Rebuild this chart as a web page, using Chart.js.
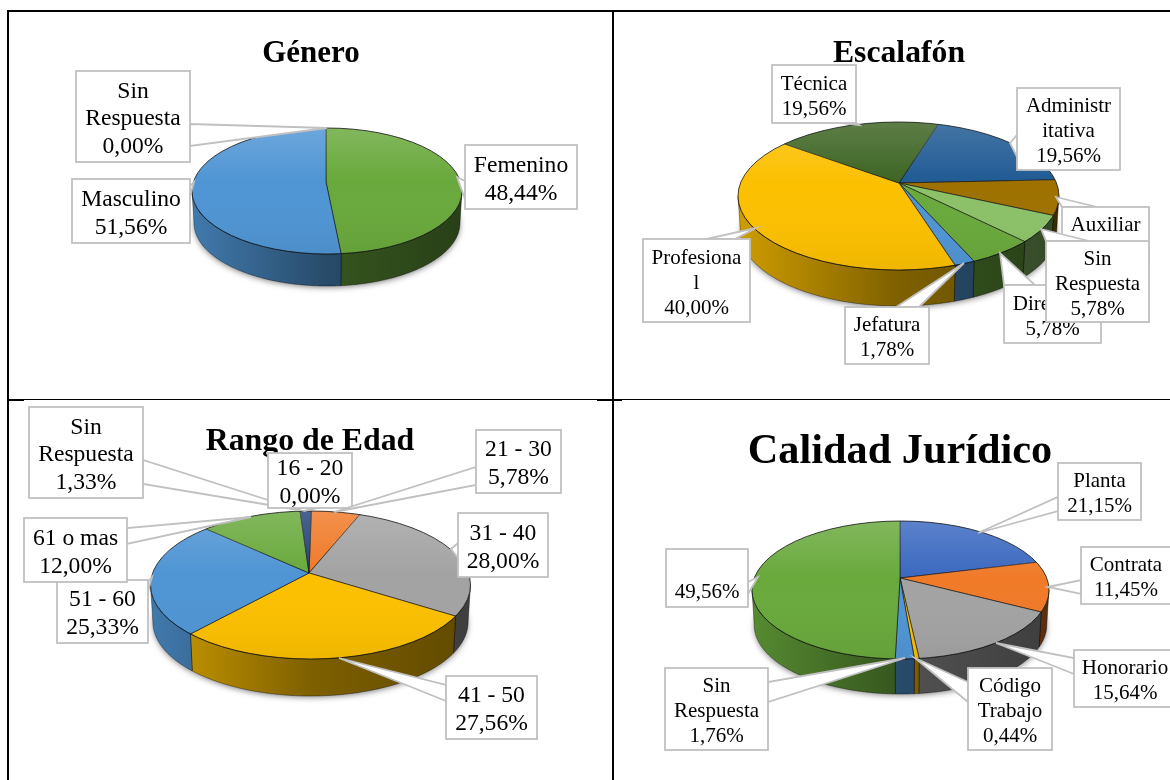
<!DOCTYPE html>
<html lang="es">
<head>
<meta charset="utf-8">
<title>Género, Escalafón, Rango de Edad, Calidad Jurídico</title>
<script src="https://cdn.jsdelivr.net/npm/chart.js@4"></script>
<style>
  html, body { margin: 0; padding: 0; background: #fff; }
  body { position: relative; width: 1170px; height: 780px; overflow: hidden; }
  canvas { position: absolute; }
  .linea { position: absolute; background: #000; z-index: 5; }
</style>
</head>
<body>
<canvas id="cGenero" width="613" height="399" style="left:0;top:0"></canvas>
<canvas id="cEscalafon" width="557" height="399" style="left:613px;top:0"></canvas>
<canvas id="cEdad" width="613" height="381" style="left:0;top:399px"></canvas>
<canvas id="cCalidad" width="557" height="381" style="left:613px;top:399px"></canvas>

<div class="linea" style="left:7px;top:10px;width:1163px;height:2px"></div>
<div class="linea" style="left:7px;top:10px;width:2px;height:770px"></div>
<div class="linea" style="left:612px;top:10px;width:2px;height:770px"></div>
<div class="linea" style="left:7px;top:399px;width:1163px;height:1px"></div>
<div class="linea" style="left:7px;top:399px;width:17px;height:2px"></div>
<div class="linea" style="left:597px;top:399px;width:25px;height:2px"></div>

<script>
// Datos
const generoCategorias = ["Femenino", "Masculino", "Sin Respuesta"];
const generoValores = [48.44, 51.56, 0];
const generoColores = ["#69a93c", "#4f95d4", "#a3a3a3"];

const escalafonCategorias = ["Administrativa", "Auxiliar", "Sin Respuesta", "Directivo", "Jefatura", "Profesional", "Técnica"];
const escalafonValores = [19.56, 7.54, 5.78, 5.78, 1.78, 40.0, 19.56];
const escalafonColores = ["#1f5a94", "#9e7100", "#8cc168", "#69a93c", "#4f95d4", "#fcc000", "#3c6422"];

const edadCategorias = ["16 - 20", "21 - 30", "31 - 40", "41 - 50", "51 - 60", "61 o mas", "Sin Respuesta"];
const edadValores = [0, 5.78, 28.0, 27.56, 25.33, 12.0, 1.33];
const edadColores = ["#3a68c0", "#f07a28", "#a3a3a3", "#fcc000", "#4f95d4", "#69a93c", "#264478"];

const calidadCategorias = ["Planta", "Contrata", "Honorario", "Código Trabajo", "Sin Respuesta", ""];
const calidadValores = [21.15, 11.45, 15.64, 0.44, 1.76, 49.56];
const calidadColores = ["#3a68c0", "#f07a28", "#a3a3a3", "#fcc000", "#4f95d4", "#69a93c"];

// Etiquetas: coordenadas de pagina, en el orden en que se pintan
const generoEtiquetas = [
  { i: 0, lineas: ["Femenino"], caja: [465, 145, 577, 209], cuna: [[457, 177], [465, 181], [465, 199]] },
  { i: 1, lineas: ["Masculino"], caja: [72, 179, 190, 243], cuna: [[194, 182], [190, 186], [190, 196]] },
  { i: 2, lineas: ["Sin", "Respuesta"], caja: [76, 71, 190, 162], cuna: [[327, 128], [190, 124], [190, 146]] },
];
const escalafonEtiquetas = [
  { i: 6, lineas: ["Técnica"], caja: [772, 65, 856, 123], cuna: [[859, 125], [842, 123], [856, 123]] },
  { i: 0, lineas: ["Administr", "itativa"], caja: [1017, 88, 1120, 170], cuna: [[1010, 143], [1017, 135], [1017, 157]] },
  // el valor de Auxiliar queda tapado por la caja de Sin Respuesta, igual que en el original
  { i: 1, lineas: ["Auxiliar"], caja: [1062, 207, 1149, 264], cuna: [[1056, 197], [1097, 207], [1062, 207]] },
  { i: 3, lineas: ["Directivo"], caja: [1004, 285, 1101, 343], cuna: [[1000, 253], [1004, 285], [1035, 285]] },
  { i: 2, lineas: ["Sin", "Respuesta"], caja: [1046, 241, 1149, 322], cuna: [[1041, 229], [1089, 241], [1046, 241]] },
  { i: 4, lineas: ["Jefatura"], caja: [845, 307, 929, 364], cuna: [[964, 263], [896, 307], [919, 307]] },
  { i: 5, lineas: ["Profesiona", "l"], caja: [643, 239, 750, 322], cuna: [[756, 228], [706, 239], [735, 239]] },
];
const edadEtiquetas = [
  { i: 6, lineas: ["Sin", "Respuesta"], caja: [29, 407, 143, 498], cuna: [[299, 510], [143, 460], [143, 484]] },
  { i: 0, lineas: ["16 - 20"], caja: [268, 453, 352, 508], cuna: [[304, 511], [292, 508], [318, 508]] },
  { i: 1, lineas: ["21 - 30"], caja: [476, 430, 561, 493], cuna: [[334, 512], [476, 467], [476, 485]] },
  { i: 2, lineas: ["31 - 40"], caja: [458, 513, 548, 577], cuna: [[451, 549], [458, 543], [458, 558]] },
  { i: 3, lineas: ["41 - 50"], caja: [446, 676, 537, 739], cuna: [[339, 658], [446, 685], [446, 701]] },
  { i: 4, lineas: ["51 - 60"], caja: [57, 580, 148, 643], cuna: [[152, 577], [148, 582], [148, 592]] },
  { i: 5, lineas: ["61 o mas"], caja: [24, 518, 127, 582], cuna: [[251, 517], [127, 528], [127, 544]] },
];
const calidadEtiquetas = [
  { i: 0, lineas: ["Planta"], caja: [1058, 463, 1141, 520], cuna: [[978, 533], [1058, 497], [1058, 511]] },
  { i: 1, lineas: ["Contrata"], caja: [1081, 547, 1171, 604], cuna: [[1048, 587], [1081, 580], [1081, 594]] },
  { i: 2, lineas: ["Honorario"], caja: [1074, 650, 1176, 707], cuna: [[996, 643], [1074, 658], [1074, 674]] },
  { i: 3, lineas: ["Código", "Trabajo"], caja: [968, 668, 1052, 750], cuna: [[915, 658], [968, 682], [968, 702]] },
  { i: 4, lineas: ["Sin", "Respuesta"], caja: [665, 668, 768, 750], cuna: [[905, 658], [768, 682], [768, 702]] },
  { i: 5, lineas: [""], caja: [666, 549, 748, 607], cuna: [[758, 577], [748, 582], [748, 594]] },
];

function oscurecer(hex, f) {
  const n = parseInt(hex.slice(1), 16);
  const r = Math.round(((n >> 16) & 255) * f);
  const g = Math.round(((n >> 8) & 255) * f);
  const b = Math.round((n & 255) * f);
  return `rgb(${r},${g},${b})`;
}

// Punto donde el rayo desde el vertice corta la elipse de la cara superior
function puntoBorde(g, ang) {
  const p = Math.cos(ang) / g.rx;
  const q = (g.k * Math.sin(ang)) / g.ry;
  const u = (g.ax - g.cx) / g.rx;
  const v = (g.ay - g.cy) / g.ry;
  const a = p * p + q * q;
  const b = 2 * (u * p + v * q);
  const c = u * u + v * v - 1;
  const t = (-b + Math.sqrt(b * b - 4 * a * c)) / (2 * a);
  return { x: g.ax + p * g.rx * t, y: g.ay + q * g.ry * t };
}

const pie3d = {
  id: "pie3d",
  beforeDatasetsDraw(chart, args, o) {
    const ctx = chart.ctx;
    const g = o.geo;
    const arcos = chart.getDatasetMeta(0).data;
    ctx.save();
    ctx.translate(-o.celda[0], -o.celda[1]);

    // sombra bajo la pared
    ctx.save();
    ctx.shadowColor = "rgba(0,0,0,0.55)";
    ctx.shadowBlur = 6;
    ctx.shadowOffsetY = 2;
    ctx.fillStyle = "#333";
    ctx.beginPath();
    ctx.ellipse(g.cx, g.cy + g.prof, g.rx * 0.98, g.ry - 1, 0, 0, Math.PI * 2);
    ctx.fill();
    ctx.restore();

    // pared frontal de cada porcion
    arcos.forEach((arco, i) => {
      const pts = [];
      for (let a = arco.startAngle; a < arco.endAngle; a += 0.008) {
        const p = puntoBorde(g, a);
        if (p.y >= g.cy) pts.push(p);
      }
      const fin = puntoBorde(g, arco.endAngle);
      if (fin.y >= g.cy) pts.push(fin);
      if (pts.length < 2) return;
      const color = o.colores[i];
      const grad = ctx.createLinearGradient(g.cx - g.rx, 0, g.cx + g.rx, 0);
      grad.addColorStop(0, oscurecer(color, 0.82));
      grad.addColorStop(0.5, oscurecer(color, 0.5));
      grad.addColorStop(1, oscurecer(color, 0.38));
      ctx.beginPath();
      pts.forEach((p, n) => (n ? ctx.lineTo(p.x, p.y) : ctx.moveTo(p.x, p.y)));
      // la curva inferior es un poco mas estrecha, por la perspectiva
      for (let n = pts.length - 1; n >= 0; n--) {
        ctx.lineTo(g.cx + (pts[n].x - g.cx) * 0.985, pts[n].y + g.prof);
      }
      ctx.closePath();
      ctx.fillStyle = grad;
      ctx.fill();
      ctx.strokeStyle = "rgba(0,0,0,0.45)";
      ctx.lineWidth = 0.8;
      ctx.stroke();
    });

    // la cara superior la pinta Chart.js, recortada a la elipse
    ctx.beginPath();
    ctx.ellipse(g.cx, g.cy, g.rx, g.ry, 0, 0, Math.PI * 2);
    ctx.clip();
    const a0 = arcos[0];
    ctx.translate(g.ax, g.ay);
    ctx.scale(1, g.k);
    ctx.translate(-a0.x, -a0.y);
  },
  afterDatasetsDraw(chart, args, o) {
    const ctx = chart.ctx;
    const g = o.geo;
    ctx.restore();
    ctx.save();
    ctx.translate(-o.celda[0], -o.celda[1]);

    // brillo de la cara superior
    ctx.save();
    ctx.beginPath();
    ctx.ellipse(g.cx, g.cy, g.rx, g.ry, 0, 0, Math.PI * 2);
    ctx.clip();
    const brillo = ctx.createLinearGradient(0, g.cy - g.ry, 0, g.cy + g.ry);
    brillo.addColorStop(0, "rgba(255,255,255,0.17)");
    brillo.addColorStop(0.42, "rgba(255,255,255,0)");
    brillo.addColorStop(1, "rgba(0,0,0,0.05)");
    ctx.fillStyle = brillo;
    ctx.fillRect(g.cx - g.rx, g.cy - g.ry, g.rx * 2, g.ry * 2);
    ctx.restore();

    ctx.strokeStyle = "rgba(20,20,20,0.8)";
    ctx.lineWidth = 1;
    ctx.beginPath();
    ctx.ellipse(g.cx, g.cy, g.rx, g.ry, 0, 0, Math.PI * 2);
    ctx.stroke();
    ctx.restore();
  },
  afterDraw(chart, args, o) {
    const ctx = chart.ctx;
    ctx.save();
    ctx.translate(-o.celda[0], -o.celda[1]);
    ctx.textAlign = "center";
    ctx.fillStyle = "#000";
    ctx.textBaseline = "alphabetic";
    ctx.font = `bold ${o.titulo.tam}px "Liberation Serif"`;
    ctx.fillText(o.titulo.texto, o.titulo.x, o.titulo.y);

    const valores = chart.data.datasets[0].data;
    o.etiquetas.forEach((et) => {
      const [x0, y0, x1, y1] = et.caja;
      // cuna del globo
      ctx.beginPath();
      et.cuna.forEach((p, n) => (n ? ctx.lineTo(p[0], p[1]) : ctx.moveTo(p[0], p[1])));
      ctx.closePath();
      ctx.fillStyle = "#fff";
      ctx.fill();
      ctx.strokeStyle = "#c0c0c0";
      ctx.lineWidth = 1.8;
      ctx.stroke();
      // caja
      ctx.fillStyle = "#fff";
      ctx.fillRect(x0, y0, x1 - x0, y1 - y0);
      ctx.strokeRect(x0, y0, x1 - x0, y1 - y0);
      // texto
      const pct = valores[et.i].toFixed(2).replace(".", ",") + "%";
      const lineas = et.lineas.concat(pct);
      const xm = (x0 + x1) / 2;
      const ym = (y0 + y1) / 2 - ((lineas.length - 1) * o.interlinea) / 2 + 2.5;
      ctx.fillStyle = "#000";
      ctx.textBaseline = "middle";
      ctx.font = `${o.fuente}px "Liberation Serif"`;
      lineas.forEach((t, n) => ctx.fillText(t, xm, ym + n * o.interlinea));
    });
    ctx.restore();
  },
};

function crearPie(idCanvas, categorias, valores, colores, conf) {
  new Chart(document.getElementById(idCanvas), {
    type: "pie",
    plugins: [pie3d],
    data: {
      labels: categorias,
      datasets: [
        {
          data: valores,
          backgroundColor: colores,
          borderColor: "rgba(25,25,25,0.85)",
          borderWidth: 1,
          clip: false,
        },
      ],
    },
    options: {
      responsive: false,
      animation: false,
      events: [],
      radius: 320,
      rotation: conf.rotacion,
      plugins: {
        legend: { display: false },
        tooltip: { enabled: false },
        pie3d: {
          geo: conf.geo,
          celda: conf.celda,
          colores: colores,
          titulo: conf.titulo,
          etiquetas: conf.etiquetas,
          fuente: conf.fuente,
          interlinea: conf.interlinea,
        },
      },
    },
  });
}

crearPie("cGenero", generoCategorias, generoValores, generoColores, {
  rotacion: 0,
  celda: [0, 0],
  geo: { ax: 326, ay: 182, cx: 327, cy: 191, rx: 135, ry: 63, k: 0.467, prof: 32 },
  titulo: { texto: "Género", x: 311, y: 62, tam: 31 },
  etiquetas: generoEtiquetas,
  fuente: 23.6,
  interlinea: 27.6,
});

crearPie("cEscalafon", escalafonCategorias, escalafonValores, escalafonColores, {
  rotacion: 17,
  celda: [613, 0],
  geo: { ax: 899, ay: 183, cx: 898.5, cy: 196, rx: 160.5, ry: 74, k: 0.46, prof: 36 },
  titulo: { texto: "Escalafón", x: 899, y: 62, tam: 31.7 },
  etiquetas: escalafonEtiquetas,
  fuente: 21,
  interlinea: 25,
});

crearPie("cEdad", edadCategorias, edadValores, edadColores, {
  rotacion: 1,
  celda: [0, 399],
  geo: { ax: 309, ay: 573, cx: 310.5, cy: 585, rx: 160, ry: 74, k: 0.46, prof: 37 },
  titulo: { texto: "Rango de Edad", x: 310, y: 450, tam: 31.8 },
  etiquetas: edadEtiquetas,
  fuente: 23.6,
  interlinea: 27.6,
});

crearPie("cCalidad", calidadCategorias, calidadValores, calidadColores, {
  rotacion: 0,
  celda: [613, 399],
  geo: { ax: 900, ay: 578, cx: 900.5, cy: 590, rx: 148.5, ry: 69, k: 0.466, prof: 35 },
  titulo: { texto: "Calidad Jurídico", x: 900, y: 463, tam: 42.3 },
  etiquetas: calidadEtiquetas,
  fuente: 21,
  interlinea: 24.7,
});
</script>
</body>
</html>
